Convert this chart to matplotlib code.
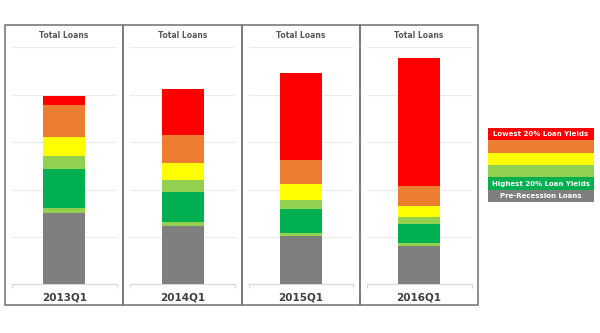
import matplotlib
matplotlib.use("Agg")
import matplotlib.pyplot as plt
from matplotlib.patches import Rectangle

# --- data (bottom to top) ---
quarters = ["2013Q1", "2014Q1", "2015Q1", "2016Q1"]
pre_recession = [1.50, 1.23, 1.01, 0.81]
thin_band = [0.105, 0.077, 0.077, 0.07]
highest_20 = [0.82, 0.65, 0.50, 0.40]
fourth_20 = [0.28, 0.25, 0.20, 0.13]
middle_20 = [0.41, 0.36, 0.33, 0.25]
second_20 = [0.67, 0.58, 0.51, 0.42]
lowest_20 = [0.18, 0.97, 1.83, 2.69]

series = [pre_recession, thin_band, highest_20, fourth_20, middle_20, second_20, lowest_20]
colors = ["#7F7F7F", "#92D050", "#00B050", "#92D050", "#FFFF00", "#ED7D31", "#FF0000"]

legend_labels = ["Lowest 20% Loan Yields", "", "", "", "Highest 20% Loan Yields", "Pre-Recession Loans"]
legend_colors = ["#FF0000", "#ED7D31", "#FFFF00", "#92D050", "#00B050", "#7F7F7F"]

W, H = 600, 333
fig = plt.figure(figsize=(W / 100, H / 100), dpi=100)


def fx(x):
    return x / W


def fy(y):
    return (H - y) / H


panel_w = 118.3
panel_top, panel_bot = 25, 305

for i, q in enumerate(quarters):
    left = 5 + i * panel_w
    # panel border
    fig.patches.append(Rectangle((fx(left), fy(panel_bot)), panel_w / W,
                                 (panel_bot - panel_top) / H, transform=fig.transFigure,
                                 fill=False, edgecolor="#7A7A7A", linewidth=1.2))
    # plot area
    ax = fig.add_axes([fx(left + 7), fy(284.3), (panel_w - 13.5) / W, (284.3 - 47.3) / H])
    bottom = 0
    for vals, c in zip(series, colors):
        ax.bar(0, vals[i], width=0.4, bottom=bottom, color=c, linewidth=0, zorder=3)
        bottom += vals[i]
    ax.set_xlim(-0.5, 0.5)
    ax.set_ylim(0, 5)
    ax.set_yticks(range(6))
    ax.yaxis.grid(True, color="#EBEBEB", linewidth=0.8, zorder=0)
    ax.tick_params(axis="y", length=0, labelleft=False)
    ax.set_xticks([-0.5, 0.5])
    ax.tick_params(axis="x", length=3, color="#D9D9D9", labelbottom=False)
    for s in ["top", "left", "right"]:
        ax.spines[s].set_visible(False)
    ax.spines["bottom"].set_color("#D9D9D9")
    ax.spines["bottom"].set_linewidth(0.8)
    ax.set_facecolor("none")

    cx = left + panel_w / 2
    fig.text(fx(cx), fy(35.7), "Total Loans", ha="center", va="center",
             fontsize=5.5, fontweight="bold", color="#595959")
    fig.text(fx(cx), fy(298), q, ha="center", va="center",
             fontsize=7.5, fontweight="bold", color="#404040")

# --- legend block ---
lg_left, lg_right = 487.7, 594
lg_top, row_h = 127.7, 12.43
for j, (lab, c) in enumerate(zip(legend_labels, legend_colors)):
    y0 = lg_top + j * row_h
    fig.patches.append(Rectangle((fx(lg_left), fy(y0 + row_h)), (lg_right - lg_left) / W,
                                 row_h / H, transform=fig.transFigure,
                                 facecolor=c, edgecolor="none"))
    if lab:
        fig.text(fx((lg_left + lg_right) / 2), fy(y0 + row_h / 2), lab, ha="center",
                 va="center", fontsize=5, fontweight="bold", color="white")

fig.savefig("out.png", dpi=100)
